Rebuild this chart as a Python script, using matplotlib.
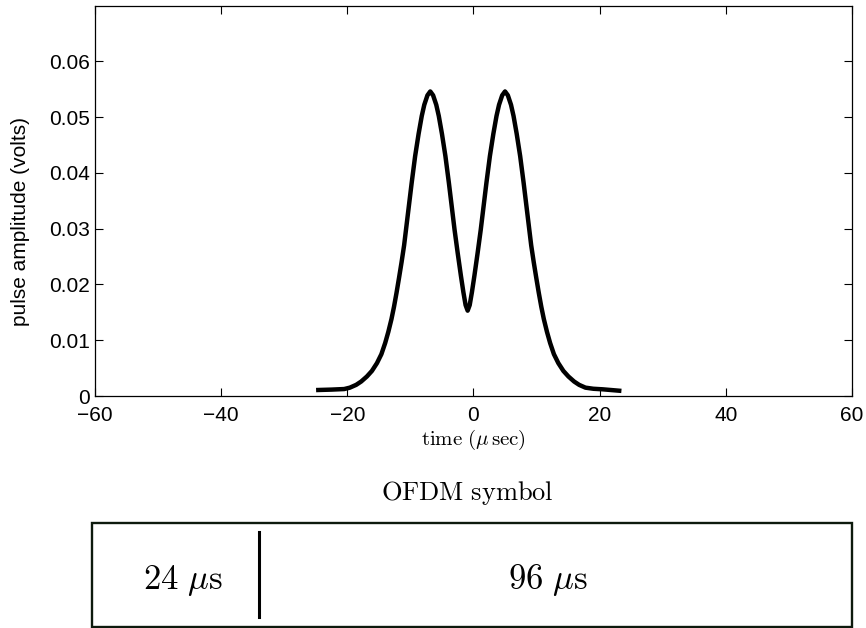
import matplotlib
matplotlib.use("Agg")
import matplotlib.pyplot as plt
from matplotlib.patches import Rectangle

plt.rcParams['font.family'] = ['Liberation Sans', 'DejaVu Sans']
plt.rcParams['mathtext.fontset'] = 'cm'

# pulse (time in microseconds, amplitude in volts)
t_us = [-24.6, -22.5, -20.5, -19.6, -18.6, -17.8, -16.9, -16.1, -15.3, -14.6,
        -14.0, -13.5, -13.0, -12.6, -12.2, -11.8, -11.4, -11.0, -10.7, -10.25,
        -9.8, -9.25, -8.7, -8.2, -7.8, -7.3, -6.85, -6.4, -5.9, -5.5,
        -5.0, -4.45, -3.9, -3.45, -3.0, -2.5, -2.0, -1.6, -1.25, -0.925,
        -0.6, -0.25, 0.15, 0.65, 1.15, 1.6, 2.05, 2.6, 3.15, 3.65,
        4.05, 4.55, 5.0, 5.45, 5.95, 6.35, 6.85, 7.4, 7.95, 8.4,
        8.85, 9.15, 9.55, 9.95, 10.35, 10.75, 11.15, 11.65, 12.15, 12.75,
        13.45, 14.25, 15.05, 15.95, 16.75, 17.75, 19.0, 20.5, 23.1]
amp = [0.00108, 0.00115, 0.00125, 0.0015, 0.0020, 0.0026, 0.0035, 0.0045, 0.0059, 0.0075,
       0.0095, 0.0115, 0.0138, 0.0160, 0.0185, 0.0212, 0.0240, 0.0270, 0.0298, 0.0340,
       0.0382, 0.0430, 0.0470, 0.0502, 0.0522, 0.0539, 0.0546, 0.0539, 0.0522, 0.0502,
       0.0470, 0.0430, 0.0382, 0.0340, 0.0298, 0.0256, 0.0216, 0.0186, 0.0163, 0.0153,
       0.0163, 0.0186, 0.0216, 0.0256, 0.0298, 0.0340, 0.0382, 0.0430, 0.0470, 0.0502,
       0.0522, 0.0539, 0.0546, 0.0539, 0.0522, 0.0502, 0.0470, 0.0430, 0.0382, 0.0340,
       0.0298, 0.0270, 0.0240, 0.0212, 0.0185, 0.0160, 0.0138, 0.0115, 0.0095, 0.0075,
       0.0059, 0.0045, 0.0035, 0.0026, 0.0020, 0.0015, 0.0013, 0.0012, 0.00095]

xticks = [-60, -40, -20, 0, 20, 40, 60]
xticklabels = ['\u221260', '\u221240', '\u221220', '0', '20', '40', '60']
yticks = [0, 0.01, 0.02, 0.03, 0.04, 0.05, 0.06]
yticklabels = ['0', '0.01', '0.02', '0.03', '0.04', '0.05', '0.06']

symbol_title = r'$\mathrm{OFDM\ symbol}$'
segment_labels = [r'$24\ \mu\mathrm{s}$', r'$96\ \mu\mathrm{s}$']

fig = plt.figure(figsize=(8.66, 6.28), dpi=100)

ax = fig.add_axes([0.1097, 0.3694, 0.8741, 0.6218])
ax.plot(t_us, amp, color='black', lw=3.2)
ax.set_xlim(-60, 60)
ax.set_ylim(0, 0.07)
ax.set_xticks(xticks)
ax.set_xticklabels(xticklabels)
ax.set_yticks(yticks)
ax.set_yticklabels(yticklabels)
ax.tick_params(direction='in', length=5.5, width=0.8, top=True, right=True,
               labelsize=15)
ax.tick_params(axis='x', pad=7)
ax.tick_params(axis='y', pad=3.5)
for sp in ax.spines.values():
    sp.set_linewidth(0.9)
ax.set_ylabel('pulse amplitude (volts)', fontsize=15)
ax.yaxis.set_label_coords(-0.086, 0.448)
ax.set_xlabel(r'$\mathrm{time}\ (\mu\,\mathrm{sec})$', fontsize=15, labelpad=2)

# lower panel drawn in pixel-like coordinates
bx = fig.add_axes([0, 0, 1, 1], zorder=-1)
bx.set_xlim(0, 866)
bx.set_ylim(628, 0)
bx.axis('off')
bx.add_patch(Rectangle((92, 523), 760, 103.5, fill=False, lw=1.7,
                       edgecolor='#0d1a0d'))
bx.plot([259, 259], [532, 617], color='black', lw=2.2)
bx.text(467, 493, symbol_title, ha='center', va='center', fontsize=19)
bx.text(183, 580, segment_labels[0], ha='center', va='center', fontsize=25)
bx.text(548, 580, segment_labels[1], ha='center', va='center', fontsize=25)

fig.savefig('out.png', dpi=100)
